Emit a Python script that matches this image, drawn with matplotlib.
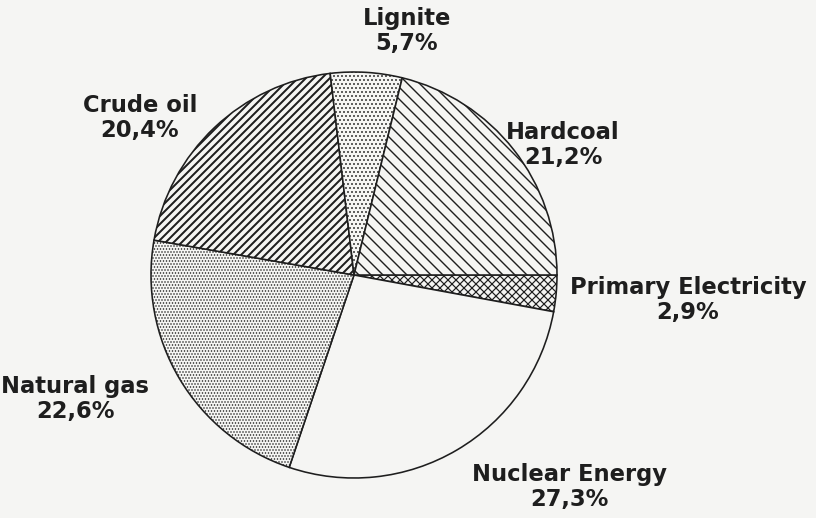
import matplotlib
matplotlib.use("Agg")
import matplotlib.pyplot as plt

# data, clockwise from 3 o'clock
labels = ["Primary Electricity", "Nuclear Energy", "Natural gas",
          "Crude oil", "Lignite", "Hardcoal"]
shares = [2.9, 27.3, 22.6, 20.4, 5.7, 21.2]
share_text = ["2,9%", "27,3%", "22,6%", "20,4%", "5,7%", "21,2%"]

# hatch per slice
hatches = ["xxxxxx", "", "." * 8, "/" * 6, "." * 6, "\\" * 4]
hatch_lw = [0.6, 0.6, 0.45, 1.0, 0.5, 0.7]

# label block centres in pixel coords (from top-left)
label_pos = [(688, 300), (569, 487), (75, 399), (140, 118), (407, 31), (563, 145)]

W, H, DPI = 816, 518, 144
bg = "#f5f5f3"
ink = "#1e1e1e"

plt.rcParams["hatch.color"] = ink
fig = plt.figure(figsize=(W / DPI, H / DPI), dpi=DPI, facecolor=bg)
ax = fig.add_axes([0, 0, 1, 1])
ax.set_facecolor(bg)

cx, cy, r = 354, H - 275, 203
wedges, _ = ax.pie(shares, startangle=0, counterclock=False,
                   center=(cx, cy), radius=r,
                   wedgeprops=dict(facecolor=bg, edgecolor=ink, linewidth=0.8))
for w, h, lw in zip(wedges, hatches, hatch_lw):
    w.set_hatch(h)
    if hasattr(w, "set_hatch_linewidth"):
        w.set_hatch_linewidth(lw)

for lab, txt, (px, py) in zip(labels, share_text, label_pos):
    ax.text(px, H - py, lab + "\n" + txt, ha="center", va="center",
            fontsize=11.3, fontweight="bold", family="DejaVu Sans",
            color=ink, linespacing=1.1)

ax.set_xlim(0, W)
ax.set_ylim(0, H)
ax.set_aspect("equal")
ax.axis("off")

fig.savefig("out.png", dpi=DPI, facecolor=bg)
